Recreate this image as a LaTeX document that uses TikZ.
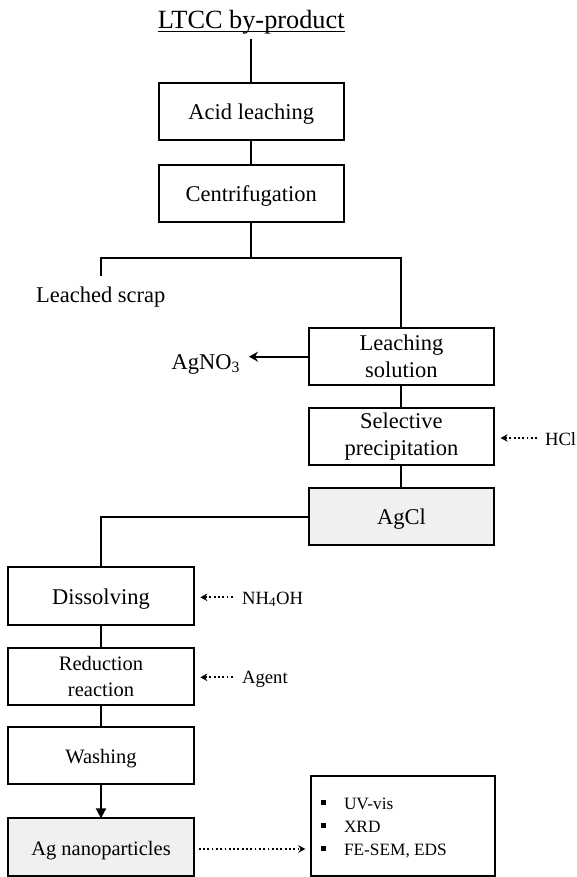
\documentclass[tikz,border=0pt]{standalone}
\usepackage{fontspec}
\setmainfont{Liberation Serif}
\usetikzlibrary{arrows.meta,calc}
\begin{document}
\begin{tikzpicture}[x=1pt,y=-1pt,
  every node/.style={inner sep=0pt, outer sep=0pt},
  box/.style={draw, line width=1.9pt, minimum width=185pt, minimum height=57.3pt, align=center},
  bigtxt/.style={font=\fontsize{22.5}{27}\selectfont},
  midtxt/.style={font=\fontsize{20.5}{26}\selectfont},
  smalltxt/.style={font=\fontsize{18.7}{22}\selectfont},
  itemtxt/.style={font=\fontsize{17.3}{21}\selectfont},
  oneline/.style={text height=16pt, text depth=0pt},
  grayfill/.style={fill=black!6},
  conn/.style={line width=1.9pt},
  dotarrow/.style={line width=1.8pt, dash pattern=on 1.8pt off 2.5pt, -{Stealth[length=7pt,width=7.5pt]}},
  bulletsq/.style={fill=black, minimum size=5pt}
]
\useasboundingbox (0,0) rectangle (576,877);

% title
\node[font=\fontsize{26.3}{30}\selectfont, anchor=base] (title) at (251.2,28.3) {LTCC by-product};
\draw[line width=1.2pt] ([yshift=-3.4pt]title.base west) -- ([yshift=-3.4pt]title.base east);

% upper column
\node[box,bigtxt,oneline] (acid) at (251.2,111.5) {Acid leaching};
\node[box,bigtxt,oneline] (cen) at (251.2,193.3) {Centrifugation};
\node[bigtxt, anchor=base] (scrap) at (100.7,302) {Leached scrap};

% right column
\node[box,bigtxt] (ls) at (401.4,356.7) {Leaching\\solution};
\node[box,bigtxt] (sp) at (401.4,436.7) {Selective\\precipitation};
\node[box,bigtxt,oneline,grayfill] (agcl) at (401.4,516.7) {AgCl};
\node[bigtxt, anchor=base east] (agno) at (240,369) {AgNO\textsubscript{3}};
\node[smalltxt, anchor=base west] (hcl) at (545,445.3) {HCl};

% left column
\node[box,bigtxt,oneline,minimum width=186pt] (dis) at (101,596) {Dissolving};
\node[box,midtxt,minimum width=186pt] (red) at (101,676.3) {Reduction\\reaction};
\node[box,midtxt,oneline,minimum width=186pt] (wash) at (101,755.7) {Washing};
\node[box,midtxt,oneline,grayfill,minimum width=186pt] (agn) at (101,847) {Ag nanoparticles};
\node[smalltxt, anchor=base west] (nh) at (242,604) {NH\textsubscript{4}OH};
\node[smalltxt, anchor=base west] (agent) at (242,683.5) {Agent};

% analysis box
\node[draw, line width=1.9pt, minimum width=184pt, minimum height=100pt] (an) at (403,825.7) {};
\node[bulletsq] (b1) at (323,802.3) {};
\node[bulletsq] (b2) at (323,825.3) {};
\node[bulletsq] (b3) at (323,848.8) {};
\node[itemtxt, anchor=base west] (i1) at (344,809) {UV-vis};
\node[itemtxt, anchor=base west] (i2) at (344,832) {XRD};
\node[itemtxt, anchor=base west] (i3) at (344,855.5) {FE-SEM, EDS};

% connectors
\coordinate (jl) at (100.7,258);
\draw[conn, shorten <=5pt] (title.south) -- (title.south |- acid.north);
\draw[conn] (acid) -- (cen);
\draw[conn] (cen.south) -- (cen.south |- jl);
\draw[conn, shorten <=10.5pt] (scrap.north) -- (scrap.north |- jl) -- (ls.north |- jl) -- (ls.north);
\draw[conn, -{Stealth[length=9pt,width=10pt]}, shorten >=9pt] (ls.west) -- (ls.west -| agno.east);
\draw[conn] (ls) -- (sp);
\draw[conn] (sp) -- (agcl);
\draw[conn] (agcl.west) -| (dis.north);
\draw[conn] (dis) -- (red);
\draw[conn] (red) -- (wash);
\draw[conn, -{Triangle[length=10pt,width=10pt]}] (wash) -- (agn);

% dotted input arrows
\coordinate (hclin) at ([yshift=7.3pt]hcl.base west);
\draw[dotarrow, shorten <=8pt, shorten >=6.7pt] (hclin) -- (hclin -| sp.east);
\coordinate (nhin) at ([yshift=6.7pt]nh.base west);
\draw[dotarrow, shorten <=9.3pt, shorten >=6.3pt] (nhin) -- (nhin -| dis.east);
\coordinate (agin) at ([yshift=6.2pt]agent.base west);
\draw[dotarrow, shorten <=9.3pt, shorten >=6.3pt] (agin) -- (agin -| red.east);
\coordinate (agout) at ([yshift=-2pt]agn.east);
\draw[dotarrow, shorten <=4.7pt, shorten >=5.7pt] (agout) -- (agout -| an.west);
\end{tikzpicture}
\end{document}
